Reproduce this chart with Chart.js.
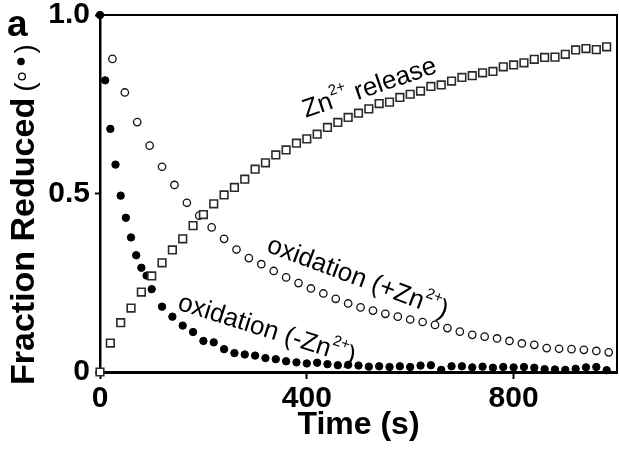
<!DOCTYPE html>
<html>
<head>
<meta charset="utf-8">
<script src="https://cdn.jsdelivr.net/npm/chart.js@4.4.1/dist/chart.umd.min.js"></script>
<style>
  html, body { margin: 0; padding: 0; background: #fff; }
  #wrap { width: 619px; height: 450px; }
</style>
</head>
<body>
<div id="wrap"><canvas id="chart" width="619" height="450"></canvas></div>
<script>
// Zn2+ release (open squares), sampled every 20 s
const znTime = [0, 20, 40, 60, 80, 100, 120, 140, 160, 180,
  200, 220, 240, 260, 280, 300, 320, 340, 360, 380,
  400, 420, 440, 460, 480, 500, 520, 540, 560, 580,
  600, 620, 640, 660, 680, 700, 720, 740, 760, 780,
  800, 820, 840, 860, 880, 900, 920, 940, 960, 980];
const znRelease = [0, 0.081, 0.138, 0.179, 0.224, 0.269, 0.306, 0.342, 0.373, 0.410,
  0.441, 0.471, 0.496, 0.517, 0.540, 0.568, 0.586, 0.608, 0.622, 0.641,
  0.653, 0.666, 0.685, 0.699, 0.713, 0.725, 0.737, 0.752, 0.756, 0.769,
  0.778, 0.787, 0.800, 0.804, 0.815, 0.825, 0.830, 0.838, 0.842, 0.855,
  0.860, 0.866, 0.876, 0.881, 0.882, 0.890, 0.902, 0.906, 0.903, 0.911];

// oxidation (+Zn2+) (open circles)
const oxPlusTime = [24, 48, 72, 96, 120, 144, 168, 192, 216, 240,
  264, 288, 312, 336, 360, 384, 408, 432, 456, 480,
  504, 528, 552, 576, 600, 624, 648, 672, 696, 720,
  744, 768, 792, 816, 840, 864, 888, 912, 936, 960, 984];
const oxPlus = [0.877, 0.783, 0.700, 0.634, 0.575, 0.524, 0.474, 0.438, 0.405, 0.373,
  0.343, 0.319, 0.302, 0.283, 0.265, 0.249, 0.234, 0.220, 0.205, 0.192,
  0.181, 0.172, 0.163, 0.155, 0.147, 0.140, 0.132, 0.123, 0.113, 0.104,
  0.099, 0.094, 0.087, 0.080, 0.076, 0.067, 0.065, 0.064, 0.062, 0.059, 0.055];

// oxidation (-Zn2+) (filled circles)
const oxMinusTime = [0, 10, 20, 30, 40, 50, 60, 70, 80, 90, 100,
  120, 140, 160, 180, 200, 220, 240, 260, 280, 300,
  320, 340, 360, 380, 400, 420, 440, 460, 480, 500,
  520, 540, 560, 580, 600, 620, 640, 660, 680, 700,
  720, 740, 760, 780, 800, 820, 840, 860, 880, 900,
  920, 940, 960, 980];
const oxMinus = [1.0, 0.817, 0.681, 0.581, 0.494, 0.432, 0.377, 0.327, 0.292, 0.270, 0.232,
  0.183, 0.155, 0.130, 0.112, 0.087, 0.083, 0.064, 0.053, 0.049, 0.046,
  0.039, 0.036, 0.030, 0.027, 0.024, 0.026, 0.022, 0.019, 0.020, 0.018,
  0.015, 0.016, 0.014, 0.016, 0.014, 0.018, 0.019, 0.006, 0.016, 0.016,
  0.013, 0.015, 0.012, 0.014, 0.013, 0.014, 0.012, 0.008, 0.007, 0.006,
  0.009, 0.013, 0.014, 0.005];

const xTicks = [0, 400, 800];
const yTicks = [0, 0.5, 1.0];
const yTickLabels = ['0', '0.5', '1.0'];

const FONT = "'Liberation Sans', Arial, sans-serif";

function pts(xs, ys) {
  return xs.map((x, i) => ({ x: x, y: ys[i] }));
}

// draws text pieces one after another along a rotated baseline
function drawRich(ctx, x, y, angle, parts) {
  ctx.save();
  ctx.translate(x, y);
  ctx.rotate(angle);
  ctx.textBaseline = 'alphabetic';
  ctx.textAlign = 'left';
  let cx = 0;
  parts.forEach(p => {
    ctx.font = p.font;
    ctx.fillText(p.text, cx + (p.dx || 0), p.dy || 0);
    cx += ctx.measureText(p.text).width + (p.dx || 0);
  });
  ctx.restore();
}

const decorations = {
  id: 'decorations',
  afterDraw(chart) {
    const ctx = chart.ctx;
    const a = chart.chartArea;
    const xs = chart.scales.x, ys = chart.scales.y;

    // top and right frame
    ctx.save();
    ctx.strokeStyle = '#000';
    ctx.lineWidth = 2;
    ctx.beginPath();
    ctx.moveTo(a.left, a.top);
    ctx.lineTo(a.right, a.top);
    ctx.lineTo(a.right, a.bottom);
    ctx.stroke();
    ctx.restore();

    ctx.fillStyle = '#000';
    const reg = s => s + 'px ' + FONT;
    const sup = '15px ' + FONT;

    // curve labels (anchored in data units)
    drawRich(ctx, xs.getPixelForValue(398), ys.getPixelForValue(0.712), -19 * Math.PI / 180, [
      { text: 'Zn', font: reg(26) },
      { text: '2+', font: sup, dy: -13 },
      { text: ' release', font: reg(26) }
    ]);
    drawRich(ctx, xs.getPixelForValue(320), ys.getPixelForValue(0.338), 20.5 * Math.PI / 180, [
      { text: 'oxidation (+Zn', font: reg(26) },
      { text: '2+', font: sup, dy: -13 },
      { text: ')', font: reg(26) }
    ]);
    drawRich(ctx, xs.getPixelForValue(148), ys.getPixelForValue(0.176), 17.5 * Math.PI / 180, [
      { text: 'oxidation (-Zn', font: reg(26) },
      { text: '2+', font: sup, dy: -13 },
      { text: ')', font: reg(26) }
    ]);

    // panel letter
    ctx.font = 'bold 37px ' + FONT;
    ctx.textAlign = 'left';
    ctx.textBaseline = 'alphabetic';
    ctx.fillText('a', 7, 36);

    // x title
    ctx.font = 'bold 32px ' + FONT;
    ctx.textAlign = 'center';
    ctx.fillText('Time (s)', (a.left + a.right) / 2, 434);

    // y title with symbol key
    ctx.save();
    ctx.translate(34, 385);
    ctx.rotate(-Math.PI / 2);
    ctx.textAlign = 'left';
    ctx.font = 'bold 34px ' + FONT;
    const t = 'Fraction Reduced';
    ctx.fillText(t, 0, 0);
    let w = ctx.measureText(t).width;
    ctx.font = '28px ' + FONT;
    ctx.fillText('(', w + 6, 0);
    w += 6 + ctx.measureText('(').width;
    ctx.lineWidth = 1.3;
    ctx.strokeStyle = '#000';
    ctx.beginPath();
    ctx.arc(w + 6, -12, 3.4, 0, Math.PI * 2);
    ctx.stroke();
    ctx.beginPath();
    ctx.arc(w + 21, -13, 3.8, 0, Math.PI * 2);
    ctx.fill();
    ctx.fillText(')', w + 29, 0);
    ctx.restore();
  }
};

new Chart(document.getElementById('chart'), {
  type: 'scatter',
  data: {
    datasets: [
      {
        label: 'Zn2+ release',
        data: pts(znTime, znRelease),
        pointStyle: 'rect',
        pointRadius: 5.4,
        backgroundColor: '#fff',
        borderColor: '#2a2a2a',
        borderWidth: 1.6,
        clip: false
      },
      {
        label: 'oxidation (+Zn2+)',
        data: pts(oxPlusTime, oxPlus),
        pointStyle: 'circle',
        pointRadius: 3.7,
        backgroundColor: '#fff',
        borderColor: '#111',
        borderWidth: 1.3,
        clip: false
      },
      {
        label: 'oxidation (-Zn2+)',
        data: pts(oxMinusTime, oxMinus),
        pointStyle: 'circle',
        pointRadius: 3.7,
        backgroundColor: '#000',
        borderColor: '#000',
        borderWidth: 1,
        clip: false
      }
    ]
  },
  options: {
    responsive: false,
    animation: false,
    layout: { autoPadding: false, padding: { top: 15, right: 2, left: 0, bottom: 0 } },
    plugins: {
      legend: { display: false },
      tooltip: { enabled: false }
    },
    scales: {
      x: {
        type: 'linear',
        min: 0,
        max: 1000,
        afterFit: s => { s.height = 78; s.paddingLeft = 0; s.paddingRight = 0; },
        afterBuildTicks: s => { s.ticks = xTicks.map(v => ({ value: v })); },
        grid: { drawOnChartArea: false, drawTicks: true, tickLength: 7, tickColor: '#000', tickWidth: 2 },
        border: { display: true, color: '#000', width: 3 },
        ticks: {
          color: '#000',
          padding: 2,
          maxRotation: 0,
          font: { family: FONT, size: 30, weight: 'bold' }
        }
      },
      y: {
        type: 'linear',
        min: 0,
        max: 1,
        afterFit: s => { s.width = 100; s.paddingTop = 0; s.paddingBottom = 0; },
        afterBuildTicks: s => { s.ticks = yTicks.map(v => ({ value: v })); },
        grid: { drawOnChartArea: false, drawTicks: true, tickLength: 5, tickColor: '#000', tickWidth: 2 },
        border: { display: true, color: '#000', width: 2.5 },
        ticks: {
          color: '#000',
          padding: 5,
          font: { family: FONT, size: 30, weight: 'bold' },
          callback: (v, i) => yTickLabels[i]
        }
      }
    }
  },
  plugins: [decorations]
});
</script>
</body>
</html>
